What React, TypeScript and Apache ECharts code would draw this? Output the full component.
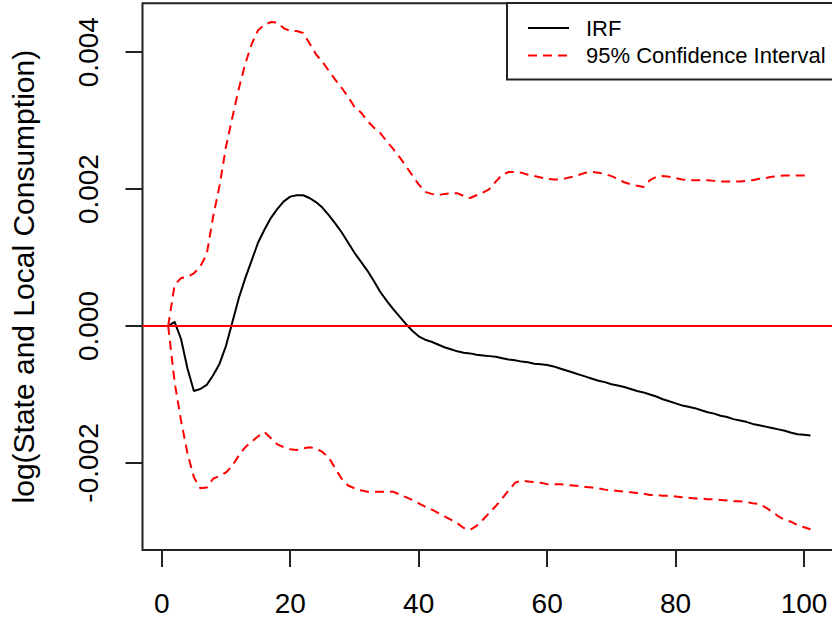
import React, { useEffect, useRef } from "react";
import * as echarts from "echarts";

const irf = [
  0.00000, 0.00006, -0.00019, -0.00062, -0.00095, -0.00092, -0.00086, -0.00072, -0.00055, -0.00029,
  0.00006, 0.00041, 0.00070, 0.00096, 0.00122, 0.00141, 0.00158, 0.00171, 0.00182, 0.00189,
  0.00191, 0.00191, 0.00187, 0.00181, 0.00173, 0.00162, 0.00150, 0.00137, 0.00122, 0.00107,
  0.00094, 0.00081, 0.00066, 0.00050, 0.00037, 0.00025, 0.00014, 0.00003, -0.00007, -0.00015,
  -0.00020, -0.00023, -0.00027, -0.00031, -0.00034, -0.00037, -0.00039, -0.00040, -0.00042, -0.00043,
  -0.00044, -0.00045, -0.00047, -0.00049, -0.00050, -0.00052, -0.00053, -0.00055, -0.00056, -0.00057,
  -0.00059, -0.00062, -0.00065, -0.00068, -0.00071, -0.00074, -0.00077, -0.00080, -0.00082, -0.00085,
  -0.00087, -0.00089, -0.00092, -0.00095, -0.00097, -0.00100, -0.00103, -0.00107, -0.00110, -0.00113,
  -0.00116, -0.00118, -0.00120, -0.00123, -0.00126, -0.00128, -0.00131, -0.00133, -0.00136, -0.00138,
  -0.00140, -0.00143, -0.00145, -0.00147, -0.00149, -0.00151, -0.00153, -0.00156, -0.00158, -0.00159, -0.00160,
];

const upperCI = [
  0.00000, 0.00060, 0.00070, 0.00072, 0.00077, 0.00087, 0.00105, 0.00160, 0.00205, 0.00262,
  0.00305, 0.00347, 0.00383, 0.00412, 0.00432, 0.00440, 0.00444, 0.00443, 0.00435, 0.00431,
  0.00431, 0.00428, 0.00413, 0.00397, 0.00386, 0.00373, 0.00360, 0.00348, 0.00335, 0.00320,
  0.00312, 0.00300, 0.00290, 0.00282, 0.00270, 0.00259, 0.00247, 0.00234, 0.00220, 0.00207,
  0.00196, 0.00193, 0.00191, 0.00193, 0.00194, 0.00194, 0.00190, 0.00187, 0.00191, 0.00195,
  0.00200, 0.00211, 0.00221, 0.00225, 0.00225, 0.00224, 0.00221, 0.00219, 0.00217, 0.00215,
  0.00214, 0.00214, 0.00216, 0.00218, 0.00221, 0.00224, 0.00225, 0.00224, 0.00222, 0.00219,
  0.00215, 0.00210, 0.00207, 0.00205, 0.00203, 0.00213, 0.00218, 0.00219, 0.00218, 0.00216,
  0.00214, 0.00213, 0.00213, 0.00213, 0.00213, 0.00212, 0.00211, 0.00211, 0.00211, 0.00211,
  0.00212, 0.00213, 0.00215, 0.00216, 0.00218, 0.00219, 0.00220, 0.00220, 0.00220, 0.00220, 0.00220,
];

const lowerCI = [
  0.00000, -0.00082, -0.00138, -0.00186, -0.00221, -0.00237, -0.00236, -0.00223, -0.00219, -0.00214,
  -0.00204, -0.00189, -0.00177, -0.00169, -0.00161, -0.00155, -0.00164, -0.00173, -0.00177, -0.00180,
  -0.00181, -0.00179, -0.00177, -0.00179, -0.00184, -0.00192, -0.00208, -0.00223, -0.00233, -0.00237,
  -0.00240, -0.00242, -0.00242, -0.00242, -0.00242, -0.00242, -0.00246, -0.00250, -0.00254, -0.00259,
  -0.00264, -0.00268, -0.00273, -0.00278, -0.00283, -0.00288, -0.00295, -0.00298, -0.00292, -0.00283,
  -0.00273, -0.00263, -0.00252, -0.00240, -0.00229, -0.00226, -0.00227, -0.00228, -0.00229, -0.00231,
  -0.00231, -0.00231, -0.00232, -0.00233, -0.00234, -0.00235, -0.00236, -0.00237, -0.00239, -0.00240,
  -0.00241, -0.00242, -0.00243, -0.00244, -0.00245, -0.00247, -0.00247, -0.00248, -0.00248, -0.00249,
  -0.00250, -0.00251, -0.00252, -0.00252, -0.00253, -0.00253, -0.00254, -0.00255, -0.00256, -0.00256,
  -0.00257, -0.00259, -0.00260, -0.00265, -0.00271, -0.00278, -0.00283, -0.00286, -0.00291, -0.00294, -0.00297,
];

const xTicks = [0, 20, 40, 60, 80, 100];
const yTicks = [-0.002, 0, 0.002, 0.004];
const yTitle = "log(State and Local Consumption)";
const legendNames = ["IRF", "95% Confidence Interval"];

const FONT = "Liberation Sans, Arial, sans-serif";

export default function App() {
  const ref = useRef<HTMLDivElement>(null);

  useEffect(() => {
    if (!ref.current) return;
    const chart = echarts.init(ref.current, null, { renderer: "svg" });
    const toPairs = (arr: number[]) => arr.map((v, i) => [i + 1, v]);
    const ciStyle = { color: "#ff0000", width: 2, type: [9, 6] as any };

    chart.setOption({
      animation: false,
      backgroundColor: "#ffffff",
      grid: {
        left: 142.5,
        top: 3.3,
        right: 845 - 836.2,
        bottom: 622 - 550,
        show: true,
        borderColor: "#222",
        borderWidth: 2,
        backgroundColor: "transparent",
      },
      legend: {
        orient: "vertical",
        left: 507,
        top: 3,
        padding: [14, 24, 13, 20],
        itemGap: 5.5,
        itemWidth: 41,
        itemHeight: 14,
        borderColor: "#222",
        borderWidth: 2,
        backgroundColor: "#fff",
        data: legendNames,
        itemStyle: { color: "rgba(0,0,0,0)", borderWidth: 0, opacity: 0 },
        formatter: (name: string) => `{a|${name}}`,
        textStyle: {
          fontFamily: FONT,
          fontSize: 22,
          color: "#000",
          rich: {
            a: { fontFamily: FONT, fontSize: 22, color: "#000", padding: [0, 0, 0, 12] },
          },
        },
      },
      xAxis: {
        type: "value",
        min: -3,
        max: 105,
        axisLine: { show: false, onZero: false },
        splitLine: { show: false },
        axisTick: {
          show: true,
          length: 17,
          inside: false,
          customValues: xTicks,
          lineStyle: { color: "#222", width: 2 },
        },
        axisLabel: {
          customValues: xTicks,
          margin: 39,
          fontFamily: FONT,
          fontSize: 28,
          color: "#000",
          formatter: (v: number) => String(v),
        },
      },
      yAxis: {
        type: "value",
        min: -0.003272,
        max: 0.004714,
        name: yTitle,
        nameLocation: "middle",
        nameGap: 104,
        nameTextStyle: { fontFamily: FONT, fontSize: 30, color: "#000" },
        axisLine: { show: false, onZero: false },
        splitLine: { show: false },
        axisTick: {
          show: true,
          length: 17,
          inside: false,
          customValues: yTicks,
          lineStyle: { color: "#222", width: 2 },
        },
        axisLabel: {
          customValues: yTicks,
          rotate: 90,
          margin: 40,
          fontFamily: FONT,
          fontSize: 28,
          color: "#000",
          formatter: (v: number) => v.toFixed(3),
        },
      },
      series: [
        {
          name: "IRF",
          type: "line",
          data: toPairs(irf),
          symbol: "none",
          lineStyle: { color: "#000", width: 2 },
          itemStyle: { color: "#000" },
          z: 3,
        },
        {
          name: "95% Confidence Interval",
          type: "line",
          data: toPairs(upperCI),
          symbol: "none",
          lineStyle: ciStyle,
          itemStyle: { color: "#ff0000" },
          z: 3,
        },
        {
          name: "95% Confidence Interval",
          type: "line",
          data: toPairs(lowerCI),
          symbol: "none",
          lineStyle: ciStyle,
          itemStyle: { color: "#ff0000" },
          z: 4,
          markLine: {
            silent: true,
            symbol: "none",
            label: { show: false },
            lineStyle: { color: "#ff0000", width: 2, type: "solid" },
            data: [{ yAxis: 0 }],
          },
        },
      ],
    });

    return () => chart.dispose();
  }, []);

  return (
    <div
      style={{
        position: "fixed",
        left: 0,
        top: 0,
        width: 832,
        height: 622,
        overflow: "hidden",
        background: "#fff",
      }}
    >
      <div ref={ref} style={{ width: 845, height: 622 }} />
    </div>
  );
}
